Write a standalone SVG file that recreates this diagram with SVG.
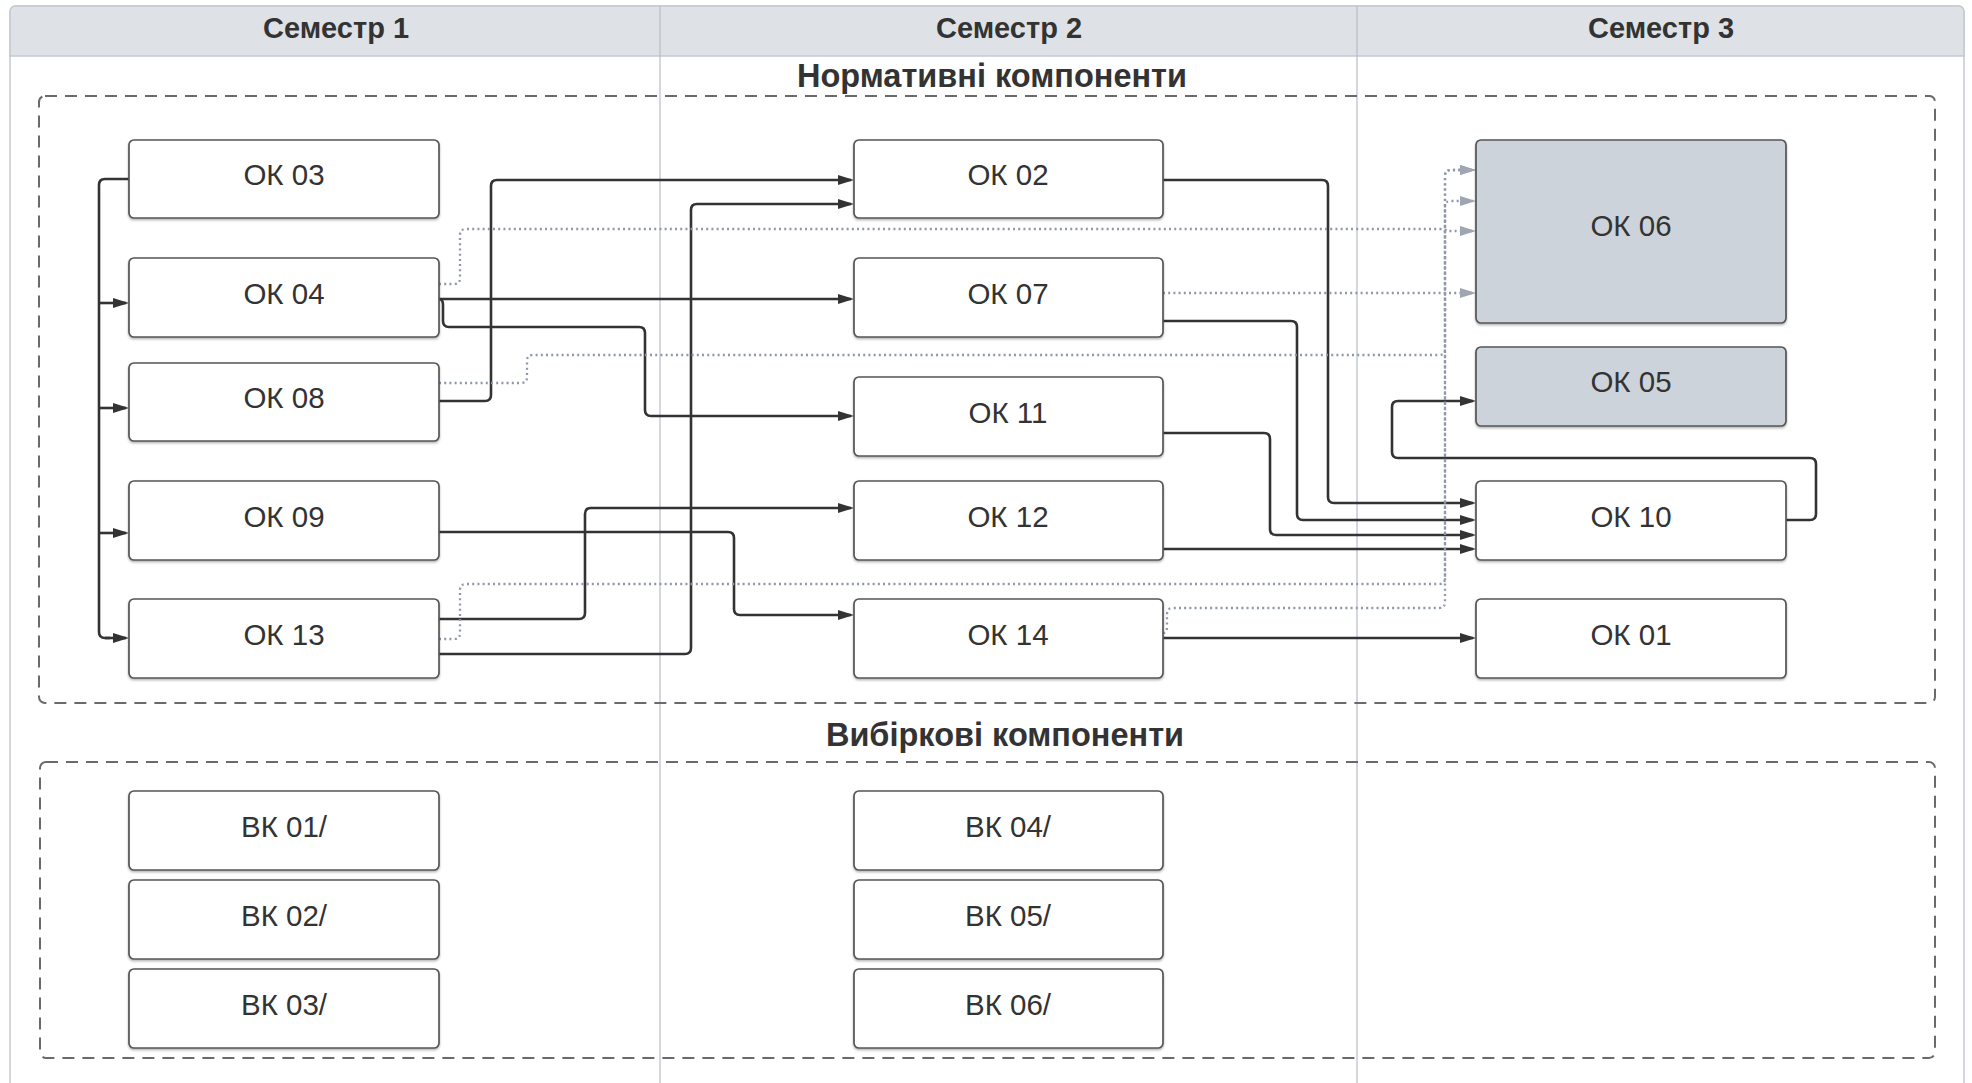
<svg xmlns="http://www.w3.org/2000/svg" width="1972" height="1083" viewBox="0 0 1972 1083">
<style>
.hdr{font-family:"Liberation Sans",Arial,sans-serif;font-weight:bold;font-size:29px;fill:#333;text-anchor:middle}
.sec{font-family:"Liberation Sans",Arial,sans-serif;font-weight:bold;font-size:32.5px;fill:#333;text-anchor:middle}
.lbl{font-family:"Liberation Sans",Arial,sans-serif;font-size:29.5px;fill:#333;text-anchor:middle}
.box{fill:#fff;stroke:#555;stroke-width:1.7;filter:url(#sh)}
.gbox{fill:#cdd3db;stroke:#555;stroke-width:1.7;filter:url(#sh)}
.cont{fill:none;stroke:#6a6a6a;stroke-width:2;stroke-dasharray:12 8}
.col{stroke:#b8bcc8;stroke-width:1.2}
.s{fill:none;stroke:#333;stroke-width:2.6;marker-end:url(#a)}
.sn{fill:none;stroke:#333;stroke-width:2.6}
.d{fill:none;stroke:#8f98a7;stroke-width:2.3;stroke-dasharray:2 3.2;marker-end:url(#g)}
</style>
<defs>
<filter id="sh" x="-5%" y="-5%" width="110%" height="120%">
<feDropShadow dx="0" dy="1.5" stdDeviation="1" flood-color="#000" flood-opacity="0.3"/>
</filter>
<marker id="a" viewBox="0 0 16 10" refX="13" refY="5" markerWidth="16" markerHeight="10" markerUnits="userSpaceOnUse" orient="auto">
<path d="M0,0 L16,5 L0,10 z" fill="#333"/>
</marker>
<marker id="g" viewBox="0 0 16 10" refX="13" refY="5" markerWidth="16" markerHeight="10" markerUnits="userSpaceOnUse" orient="auto">
<path d="M0,0 L16,5 L0,10 z" fill="#9ea6b3"/>
</marker>
</defs>

<g id="frame">
<rect x="10" y="6" width="1954" height="1100" rx="6" fill="#fff" stroke="#c5c9d1" stroke-width="1.5"/>
<path d="M10,56 V12 Q10,6 16,6 H1958 Q1964,6 1964,12 V56 Z" fill="#dee2e7" stroke="#c5c9d1" stroke-width="1.5"/>
<line class="col" x1="660" y1="6" x2="660" y2="1083"/>
<line class="col" x1="1357" y1="6" x2="1357" y2="1083"/>
<text class="hdr" x="336" y="38">Семестр 1</text>
<text class="hdr" x="1009" y="38">Семестр 2</text>
<text class="hdr" x="1661" y="38">Семестр 3</text>
</g>

<g id="normative">
<rect class="cont" x="39" y="96" width="1896" height="607" rx="6"/>
<text class="sec" x="992" y="87">Нормативні компоненти</text>
</g>
<g id="elective">
<rect class="cont" x="40" y="762" width="1895" height="296" rx="6"/>
<text class="sec" x="1005" y="746">Вибіркові компоненти</text>
</g>

<g id="connectors">
<path class="sn" d="M129,179 H105 Q99,179 99,185 V632 Q99,638 105,638 H110"/>
<path class="s" d="M105,638 H126"/>
<path class="s" d="M99,303 H126"/>
<path class="s" d="M99,408 H126"/>
<path class="s" d="M99,533 H126"/>
<path class="s" d="M439,299 H851"/>
<path class="s" d="M439,299 Q443,299 443,305 V321 Q443,327 449,327 H639 Q645,327 645,333 V410 Q645,416 651,416 H851"/>
<path class="s" d="M439,401 H485 Q491,401 491,395 V186 Q491,180 497,180 H851"/>
<path class="s" d="M439,654 H685 Q691,654 691,648 V210 Q691,204 697,204 H851"/>
<path class="s" d="M439,619 H579 Q585,619 585,613 V514 Q585,508 591,508 H851"/>
<path class="s" d="M439,532 H728 Q734,532 734,538 V609 Q734,615 740,615 H851"/>
<path class="s" d="M1163,180 H1322 Q1328,180 1328,186 V497 Q1328,503 1334,503 H1473"/>
<path class="s" d="M1163,321 H1291 Q1297,321 1297,327 V514 Q1297,520 1303,520 H1473"/>
<path class="s" d="M1163,433 H1264 Q1270,433 1270,439 V529 Q1270,535 1276,535 H1473"/>
<path class="s" d="M1163,549 H1473"/>
<path class="s" d="M1786,520 H1810 Q1816,520 1816,514 V464 Q1816,458 1810,458 H1398 Q1392,458 1392,452 V407 Q1392,401 1398,401 H1473"/>
<path class="s" d="M1163,638 H1473"/>
<path class="d" d="M439,284 H454 Q460,284 460,278 V235 Q460,229 466,229 H1440 Q1445,229 1447,231 H1473"/>
<path class="d" d="M1163,293 H1473"/>
<path class="d" d="M439,383 H521 Q527,383 527,377 V361 Q527,355 533,355 H1439 Q1445,355 1445,349 V176 Q1445,170 1451,170 H1473"/>
<path class="d" d="M439,639 H454 Q460,639 460,633 V590 Q460,584 466,584 H1439 Q1445,584 1445,578 V207 Q1445,201 1451,201 H1473"/>
<path class="d" d="M1163,633 Q1167,633 1167,627 V614 Q1167,608 1173,608 H1439 Q1445,608 1445,602 V176 Q1445,170 1451,170 H1473"/>
</g>

<g id="ok03"><rect class="box" x="129" y="140" width="310" height="78" rx="5"/><text class="lbl" x="284" y="185">ОК 03</text></g>
<g id="ok04"><rect class="box" x="129" y="258" width="310" height="79" rx="5"/><text class="lbl" x="284" y="304">ОК 04</text></g>
<g id="ok08"><rect class="box" x="129" y="363" width="310" height="78" rx="5"/><text class="lbl" x="284" y="408">ОК 08</text></g>
<g id="ok09"><rect class="box" x="129" y="481" width="310" height="79" rx="5"/><text class="lbl" x="284" y="527">ОК 09</text></g>
<g id="ok13"><rect class="box" x="129" y="599" width="310" height="79" rx="5"/><text class="lbl" x="284" y="645">ОК 13</text></g>

<g id="ok02"><rect class="box" x="854" y="140" width="309" height="78" rx="5"/><text class="lbl" x="1008" y="185">ОК 02</text></g>
<g id="ok07"><rect class="box" x="854" y="258" width="309" height="79" rx="5"/><text class="lbl" x="1008" y="304">ОК 07</text></g>
<g id="ok11"><rect class="box" x="854" y="377" width="309" height="79" rx="5"/><text class="lbl" x="1008" y="423">ОК 11</text></g>
<g id="ok12"><rect class="box" x="854" y="481" width="309" height="79" rx="5"/><text class="lbl" x="1008" y="527">ОК 12</text></g>
<g id="ok14"><rect class="box" x="854" y="599" width="309" height="79" rx="5"/><text class="lbl" x="1008" y="645">ОК 14</text></g>

<g id="ok06"><rect class="gbox" x="1476" y="140" width="310" height="183" rx="5"/><text class="lbl" x="1631" y="236">ОК 06</text></g>
<g id="ok05"><rect class="gbox" x="1476" y="347" width="310" height="79" rx="5"/><text class="lbl" x="1631" y="392">ОК 05</text></g>
<g id="ok10"><rect class="box" x="1476" y="481" width="310" height="79" rx="5"/><text class="lbl" x="1631" y="527">ОК 10</text></g>
<g id="ok01"><rect class="box" x="1476" y="599" width="310" height="79" rx="5"/><text class="lbl" x="1631" y="645">ОК 01</text></g>

<g id="vk01"><rect class="box" x="129" y="791" width="310" height="79" rx="5"/><text class="lbl" x="284" y="837">ВК 01/</text></g>
<g id="vk02"><rect class="box" x="129" y="880" width="310" height="79" rx="5"/><text class="lbl" x="284" y="926">ВК 02/</text></g>
<g id="vk03"><rect class="box" x="129" y="969" width="310" height="79" rx="5"/><text class="lbl" x="284" y="1015">ВК 03/</text></g>
<g id="vk04"><rect class="box" x="854" y="791" width="309" height="79" rx="5"/><text class="lbl" x="1008" y="837">ВК 04/</text></g>
<g id="vk05"><rect class="box" x="854" y="880" width="309" height="79" rx="5"/><text class="lbl" x="1008" y="926">ВК 05/</text></g>
<g id="vk06"><rect class="box" x="854" y="969" width="309" height="79" rx="5"/><text class="lbl" x="1008" y="1015">ВК 06/</text></g>
</svg>
